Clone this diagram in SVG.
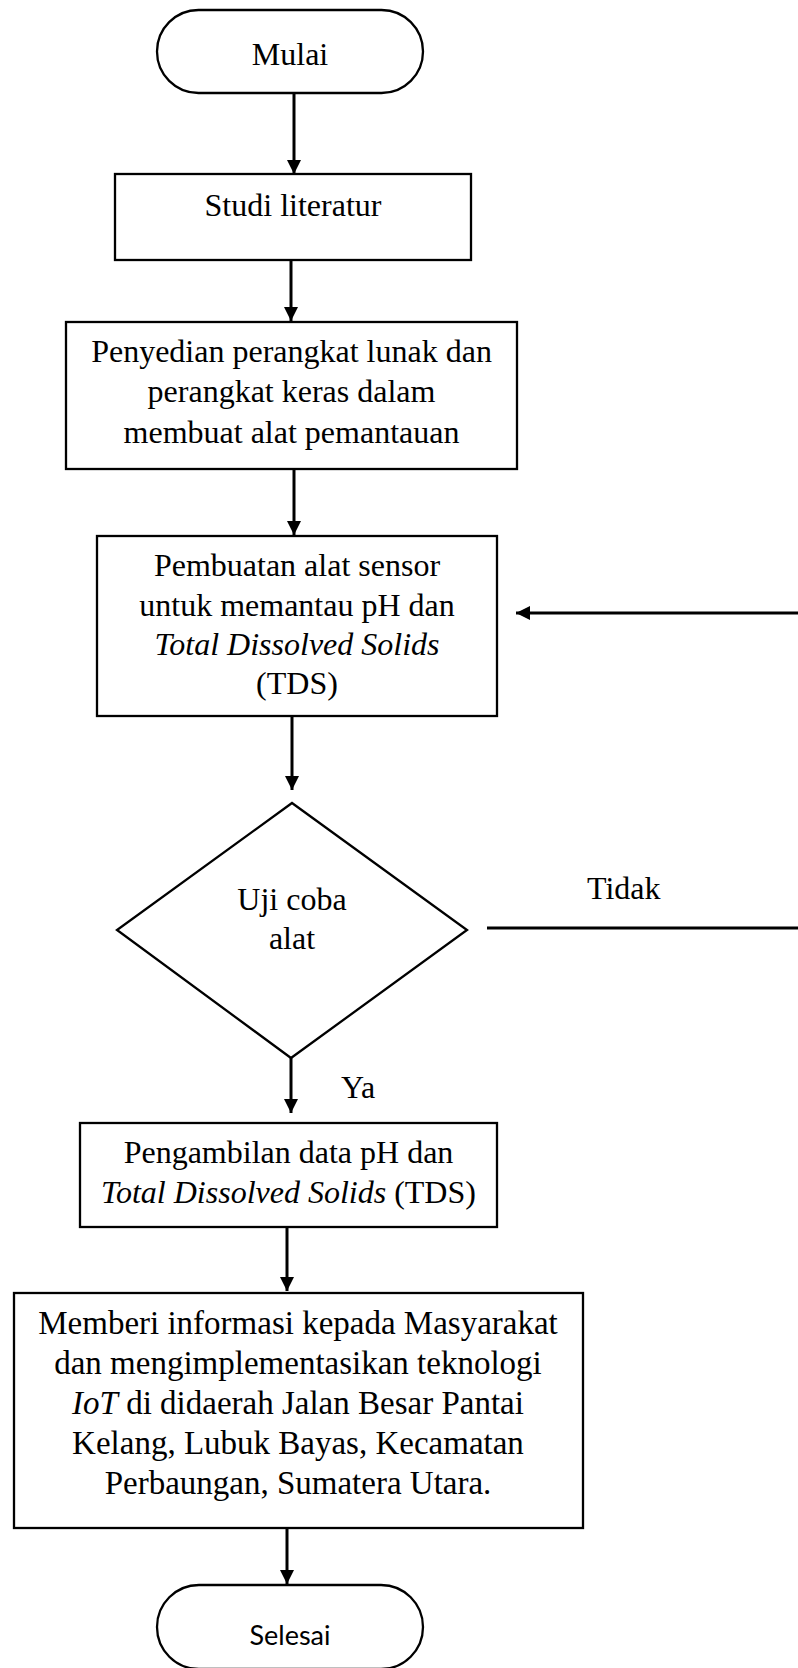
<svg xmlns="http://www.w3.org/2000/svg" width="798" height="1668" viewBox="0 0 798 1668">
<style>
.box{fill:#fff;stroke:#000;stroke-width:2.3}
.t{font-family:"Liberation Serif","Times New Roman",serif;font-size:32px;fill:#000;text-anchor:middle}
.tb{font-size:33px}
.tl{font-family:"Liberation Serif","Times New Roman",serif;font-size:32px;fill:#000}
.s{font-family:Lato,"Open Sans",sans-serif;font-size:27px;fill:#000;text-anchor:middle}
.c{stroke:#000;stroke-width:3;fill:none}
.i{font-style:italic}
</style>
<defs>
<marker id="ah" viewBox="0 0 10 10" refX="10" refY="5" markerWidth="4.8" markerHeight="4.8" orient="auto" markerUnits="strokeWidth">
<path d="M0,0 L10,5 L0,10 Z" fill="#000"/>
</marker>
</defs>
<g id="connectors">
<line class="c" x1="294" y1="93" x2="294" y2="174" marker-end="url(#ah)"/>
<line class="c" x1="291" y1="260" x2="291" y2="321" marker-end="url(#ah)"/>
<line class="c" x1="294" y1="469" x2="294" y2="535" marker-end="url(#ah)"/>
<line class="c" x1="292" y1="716" x2="292" y2="790" marker-end="url(#ah)"/>
<line class="c" x1="291" y1="1058" x2="291" y2="1113" marker-end="url(#ah)"/>
<line class="c" x1="287" y1="1227" x2="287" y2="1291" marker-end="url(#ah)"/>
<line class="c" x1="287" y1="1528" x2="287" y2="1584" marker-end="url(#ah)"/>
<line class="c" x1="487" y1="928" x2="800" y2="928"/>
<line class="c" x1="800" y1="613" x2="516" y2="613" marker-end="url(#ah)"/>
<text class="tl" x="587" y="899">Tidak</text>
<text class="tl" x="341" y="1098">Ya</text>
</g>
<g id="mulai">
<rect class="box" x="157" y="10" width="266" height="83" rx="41.5" ry="41.5"/>
<text class="t" x="290" y="65">Mulai</text>
</g>
<g id="studi">
<rect class="box" x="115" y="174" width="356" height="86"/>
<text class="t" x="293" y="216">Studi literatur</text>
</g>
<g id="penyedian">
<rect class="box" x="66" y="322" width="451" height="147"/>
<text class="t" x="291.5" y="362">Penyedian perangkat lunak dan</text>
<text class="t" x="291.5" y="402">perangkat keras dalam</text>
<text class="t" x="291.5" y="443">membuat alat pemantauan</text>
</g>
<g id="pembuatan">
<rect class="box" x="97" y="536" width="400" height="180"/>
<text class="t" x="297" y="576">Pembuatan alat sensor</text>
<text class="t" x="297" y="616">untuk memantau pH dan</text>
<text class="t i" x="297" y="655">Total Dissolved Solids</text>
<text class="t" x="297" y="694">(TDS)</text>
</g>
<g id="ujicoba">
<polygon class="box" points="292,803 467,930 291,1058 117,930"/>
<text class="t" x="292" y="910">Uji coba</text>
<text class="t" x="292" y="949">alat</text>
</g>
<g id="pengambilan">
<rect class="box" x="80" y="1123" width="417" height="104"/>
<text class="t" x="288.5" y="1163">Pengambilan data pH dan</text>
<text class="t" x="288.5" y="1203"><tspan class="i">Total Dissolved Solids</tspan> (TDS)</text>
</g>
<g id="memberi">
<rect class="box" x="14" y="1293" width="569" height="235"/>
<text class="t tb" x="298" y="1334">Memberi informasi kepada Masyarakat</text>
<text class="t tb" x="298" y="1374">dan mengimplementasikan teknologi</text>
<text class="t tb" x="298" y="1414"><tspan class="i">IoT</tspan> di didaerah Jalan Besar Pantai</text>
<text class="t tb" x="298" y="1454">Kelang, Lubuk Bayas, Kecamatan</text>
<text class="t tb" x="298" y="1494">Perbaungan, Sumatera Utara.</text>
</g>
<g id="selesai">
<rect class="box" x="157" y="1585" width="266" height="84" rx="42" ry="42"/>
<text class="s" x="290" y="1645">Selesai</text>
</g>
</svg>
